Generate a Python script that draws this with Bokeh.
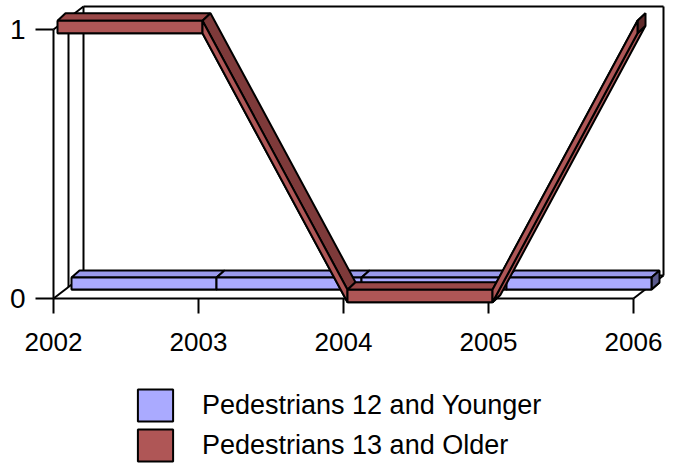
from bokeh.plotting import figure
from bokeh.models import Range1d, FixedTicker, Legend, LegendItem, ColumnDataSource
from bokeh.embed import file_html
from bokeh.resources import INLINE

# ---- data ----
years = [2002, 2003, 2004, 2005, 2006]
tick_labels = ["2002", "2003", "2004", "2005", "2006"]
younger = [0, 0, 0, 0, 0]
older = [1, 1, 0, 0, 1]
series_names = ["Pedestrians 12 and Younger", "Pedestrians 13 and Older"]
y_ticks = [0, 1]

# ---- layout / projection (pixels) ----
W, H = 673, 465
X0_PX = 53            # canvas x of the first year on the front plane
PX_X = 145.0          # pixels per year
PX_Y = 269.0          # pixels per unit value
TOP_PAD = 29          # canvas y of the max value on the front plane
DEPTH = (30, 23)      # wall depth offset (right, up) in pixels

vmin, vmax = min(y_ticks), max(y_ticks)
x_start = years[0] - X0_PX / PX_X
x_end = years[0] + (W - X0_PX) / PX_X
y_end = vmax + TOP_PAD / PX_Y
y_start = vmax - (H - TOP_PAD) / PX_Y


def ox(px):
    return px / PX_X


def oy(px):
    return px / PX_Y


p = figure(width=W, height=H, x_range=Range1d(x_start, x_end), y_range=Range1d(y_start, y_end),
           output_backend="svg", toolbar_location=None,
           min_border_left=0, min_border_right=0, min_border_top=0, min_border_bottom=0)
p.outline_line_color = None
p.grid.visible = False
p.background_fill_color = "white"
p.border_fill_color = "white"

# ---- walls / floor ----
dX, dY = ox(DEPTH[0]), oy(DEPTH[1])
xa0, xa1 = years[0], years[-1]
wall_xs = [
    [xa0 + dX, xa1 + dX],            # back top
    [xa1 + dX, xa1 + dX],            # back right
    [xa0 + dX, xa1 + dX],            # floor back
    [xa0 + dX, xa0 + dX],            # back left
    [xa0, xa0 + dX],                 # left wall top diagonal
    [xa0, xa0 + dX],                 # floor left diagonal
    [xa1, xa1 + dX],                 # floor right diagonal
    [xa0 + dX / 2, xa0 + dX / 2],    # mid-depth vertical
]
wall_ys = [
    [vmax + dY, vmax + dY],
    [vmax + dY, vmin + dY],
    [vmin + dY, vmin + dY],
    [vmin + dY, vmax + dY],
    [vmax, vmax + dY],
    [vmin, vmin + dY],
    [vmin, vmin + dY],
    [vmin + dY / 2, vmax + dY / 2],
]
p.multi_line(xs=wall_xs, ys=wall_ys, line_color="black", line_width=2)


# ---- 3D ribbons ----
def ribbon(vals, off, ext, half, front_col, top_flat, top_slope, bottom_col, cap_col, level):
    h = oy(half)
    ex, ey = ox(ext[0]), oy(ext[1])
    fx, fy, tx, ty, tc, bx, by = [], [], [], [], [], [], []
    for i in range(len(years) - 1):
        X0 = years[i] + ox(off[0])
        X1 = years[i + 1] + ox(off[0])
        Y0 = vals[i] + oy(off[1])
        Y1 = vals[i + 1] + oy(off[1])
        fx.append([X0, X1, X1, X0])
        fy.append([Y0 + h, Y1 + h, Y1 - h, Y0 - h])
        tx.append([X0, X1, X1 + ex, X0 + ex])
        ty.append([Y0 + h, Y1 + h, Y1 + h + ey, Y0 + h + ey])
        tc.append(top_flat if vals[i] == vals[i + 1] else top_slope)
        bx.append([X0, X1, X1 + ex, X0 + ex])
        by.append([Y0 - h, Y1 - h, Y1 - h + ey, Y0 - h + ey])
    Xe = years[-1] + ox(off[0])
    Ye = vals[-1] + oy(off[1])
    cx = [[Xe, Xe + ex, Xe + ex, Xe]]
    cy = [[Ye + h, Ye + h + ey, Ye - h + ey, Ye - h]]
    p.patches(xs=bx, ys=by, fill_color=bottom_col, line_color="black", line_width=2, level=level)
    p.patches(source=ColumnDataSource(dict(xs=tx, ys=ty, c=tc)), xs="xs", ys="ys", fill_color="c",
              line_color="black", line_width=2, level=level)
    p.patches(xs=cx, ys=cy, fill_color=cap_col, line_color="black", line_width=2, level=level)
    return p.patches(xs=fx, ys=fy, fill_color=front_col, line_color="black", line_width=2, level=level)


blue_front = ribbon(younger, off=(18, 15), ext=(8, 7), half=6,
                    front_col="#AAAAFF", top_flat="#9A9AEC", top_slope="#7C7CC8",
                    bottom_col="#AAAAFF", cap_col="#5A5A8C", level="glyph")
red_front = ribbon(older, off=(4, 2.5), ext=(8, 7.5), half=6.3,
                   front_col="#AF5656", top_flat="#9A4848", top_slope="#7E3A3A",
                   bottom_col="#A65050", cap_col="#5E2A2A", level="overlay")

# ---- axes ----
xa = p.xaxis[0]
xa.fixed_location = vmin
xa.bounds = (years[0], years[-1])
xa.ticker = FixedTicker(ticks=years)
xa.major_label_overrides = {y: l for y, l in zip(years, tick_labels)}
xa.minor_tick_line_color = None
xa.major_tick_in = 0
xa.major_tick_out = 15
xa.axis_line_width = 2
xa.major_tick_line_width = 2
xa.major_label_text_font = "Liberation Sans"
xa.major_label_text_font_size = "26px"
xa.major_label_text_color = "black"
xa.major_label_standoff = 19

ya = p.yaxis[0]
ya.fixed_location = years[0]
ya.bounds = (vmin, vmax)
ya.ticker = FixedTicker(ticks=y_ticks)
ya.minor_tick_line_color = None
ya.major_tick_in = 0
ya.major_tick_out = 18
ya.axis_line_width = 2
ya.major_tick_line_width = 2
ya.major_label_text_font = "Liberation Sans"
ya.major_label_text_font_size = "28px"
ya.major_label_text_color = "black"
ya.major_label_standoff = 10

# ---- legend ----
legend = Legend(items=[LegendItem(label=series_names[0], renderers=[blue_front]),
                       LegendItem(label=series_names[1], renderers=[red_front])],
                location=(133, 0), orientation="vertical", glyph_width=44, glyph_height=40,
                spacing=0, label_standoff=25, padding=0, margin=0,
                border_line_color=None, background_fill_alpha=0,
                label_text_font="Liberation Sans", label_text_font_size="27px",
                label_height=40, label_text_color="black")
p.add_layout(legend)

open("out.html", "w").write(file_html(p, INLINE))
